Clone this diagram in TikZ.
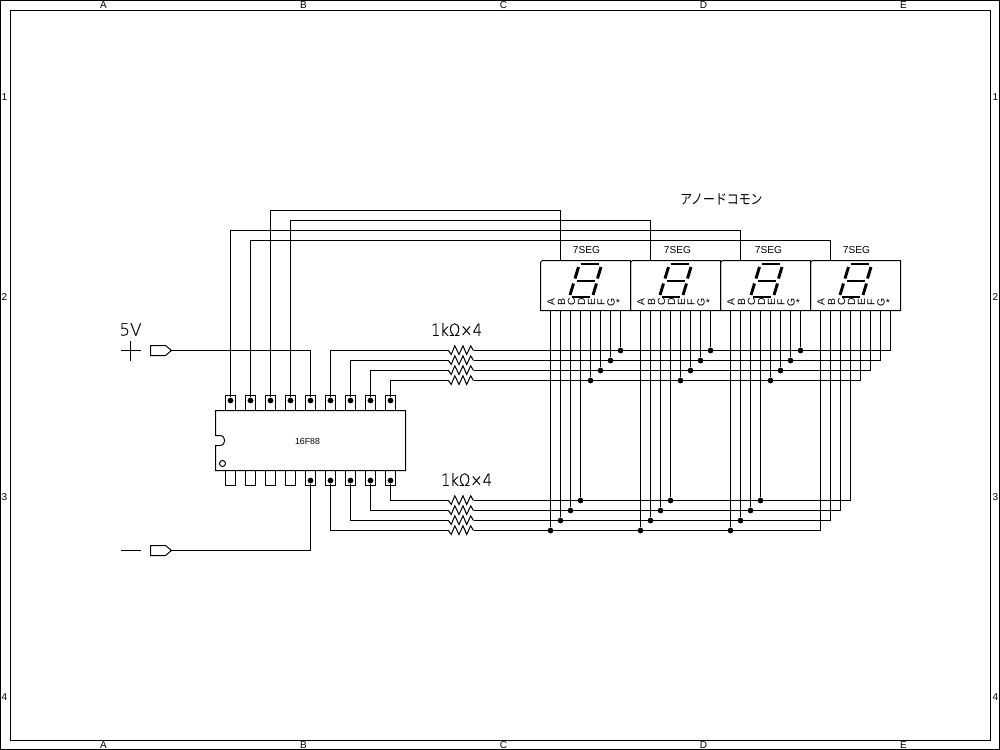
\documentclass[tikz,border=0pt]{standalone}
\usepackage{fontspec}
\setmainfont{Liberation Sans}
\newfontfamily\jpfont{Noto Sans CJK JP}
\newfontfamily\thinfont[FakeBold=0.3]{DejaVu Sans ExtraLight}
\newcommand{\zigzag}[1]{\draw[wire] (#1) -- ++(2.7,4) -- ++(3.6,-8.7) -- ++(4.2,8.7) -- ++(4,-8.7) -- ++(3.7,8.7) -- ++(4,-8.7) -- ++(2.7,4.7);}
\tikzset{
  wire/.style={draw=black,line width=0.75pt,line join=miter},
  jdot/.style={circle,fill=black,draw=none,inner sep=0pt,minimum size=4.3pt},
  segbar/.style={draw=black,line width=2.2pt,line cap=butt},
  frametext/.style={inner sep=0pt,font=\fontsize{7.5pt}{8pt}\selectfont},
  smalltext/.style={inner sep=0pt,font=\fontsize{7.6pt}{8pt}\selectfont},
  pinletter/.style={inner sep=0pt,rotate=90,font=\fontsize{7.8pt}{8pt}\selectfont},
  bigtext/.style={inner sep=0pt,font=\thinfont\fontsize{12.6pt}{14pt}\selectfont},
}
\begin{document}
\begin{tikzpicture}[x=0.75pt,y=-0.75pt]
\useasboundingbox (0,0) rectangle (1000,750);
\fill[white] (0,0) rectangle (1000,750);
\begin{scope}[shift={(0.5,0.5)}]
% frame
\draw[wire] (0,0) rectangle (999,749);
\draw[wire] (10,10) rectangle (990,740);
\foreach \l/\x in {A/103,B/303,C/503,D/703,E/903}{
  \node[frametext] (top\l) at (\x,5) {\l};
  \node[frametext] (bot\l) at (\x,745) {\l};
}
\foreach \n/\y in {1/97,2/297,3/497,4/697}{
  \node[frametext] (lft\n) at (4,\y) {\n};
  \node[frametext] (rgt\n) at (995,\y) {\n};
}
% IC pins
\foreach \i in {1,...,9}{
  \pgfmathtruncatemacro{\x}{210+20*\i}
  \draw[wire] (\x-5,410) -- (\x-5,395) -- (\x+5,395) -- (\x+5,410);
  \draw[wire] (\x-5,470) -- (\x-5,485) -- (\x+5,485) -- (\x+5,470);
  \node[jdot] (T\i) at (\x,400) {};
}
\foreach \i in {5,...,9}{
  \pgfmathtruncatemacro{\x}{210+20*\i}
  \node[jdot] (B\i) at (\x,480) {};
}
% IC body
\draw[wire] (215,410) -- (405,410) -- (405,470) -- (215,470) -- (215,445) -- (219,445)
  .. controls (226,445) and (226,435) .. (219,435) -- (215,435) -- cycle;
\draw[wire] (222,463) circle[radius=3];
\node[smalltext] (ic) at (307,441) {\fontsize{6.6pt}{8pt}\selectfont 16F88};
% Power
\node[bigtext] (v5) at (130,329) {5V};
\draw[wire] (120,350) -- (140,350);
\draw[wire] (130,340) -- (130,360);
\draw[wire] (120,550) -- (140,550);
\coordinate (Fp) at (171,350);
\coordinate (Fg) at (171,550);
\draw[wire] (Fp) -- ++(-6,-5) -- ++(-15,0) -- ++(0,10) -- ++(15,0) -- cycle;
\draw[wire] (Fg) -- ++(-6,-5) -- ++(-15,0) -- ++(0,10) -- ++(15,0) -- cycle;
\draw[wire] (Fp) -| (T5);
\draw[wire] (Fg) -| (B5);
% Displays
\foreach \d/\bx/\cx in {1/540/560,2/630/650,3/720/740,4/810/830}{
  \draw[wire] (\bx+2,260) -- (\bx+90,260) -- (\bx+90,310) -- (\bx,310) -- (\bx,262) -- cycle;
  \coordinate (C\d) at (\cx,260);
  \foreach \i in {1,...,8}{
    \pgfmathtruncatemacro{\x}{\bx+10*\i}
    \coordinate (P\d-\i) at (\x,310);
  }
}
\foreach \d/\ox/\lx/\tx in {1/0/0/586,2/90/90/677,3/181/180/768,4/270/270/856}{
  \begin{scope}[xshift=\ox*0.75pt]
    \draw[segbar] (580,263.5) -- (598,263.5);
    \draw[segbar] (576,280.5) -- (594,280.5);
    \draw[segbar] (571.5,296.5) -- (589.5,296.5);
    \draw[segbar] (578,266.5) -- (574.5,278);
    \draw[segbar] (600.5,266.5) -- (597,278);
    \draw[segbar] (573,283) -- (569.5,294.5);
    \draw[segbar] (596,283) -- (592.5,294.5);
  \end{scope}
  \node[smalltext] (seg\d) at (\tx,250) {7SEG};
  \foreach \t/\px in {A/550.5,B/561,C/571,D/581,E/591,F/600.5,G/610.5}{
    \node[pinletter] (L\d\t) at (\px+\lx,301.5) {\t};
  }
  \node[inner sep=0pt,font=\fontsize{8pt}{8pt}\selectfont] (L\d s) at (617.5+\lx,302.5) {*};
}
% Junctions and segment wires
\foreach \d/\bx in {1/550,2/640,3/730}{
  \foreach \i/\y in {1/530,2/520,3/510,4/500,5/380,6/370,7/360,8/350}{
    \pgfmathtruncatemacro{\x}{\bx+10*(\i-1)}
    \node[jdot] (J\d-\i) at (\x,\y) {};
    \draw[wire] (P\d-\i) -- (J\d-\i);
  }
}
\foreach \i/\y in {1/530,2/520,3/510,4/500,5/380,6/370,7/360,8/350}{
  \pgfmathtruncatemacro{\x}{820+10*(\i-1)}
  \coordinate (J4-\i) at (\x,\y);
  \draw[wire] (P4-\i) -- (J4-\i);
}
% Resistors and buses, top
\foreach \t/\s/\y in {6/8/350,7/7/360,8/6/370,9/5/380}{
  \coordinate (RL\t) at (448,\y);
  \coordinate (RR\t) at (473,\y);
  \zigzag{RL\t}
  \draw[wire] (T\t) |- (RL\t);
  \draw[wire] (RR\t) -- (J4-\s);
}
% Resistors and buses, bottom
\foreach \t/\s/\y in {9/4/500,8/3/510,7/2/520,6/1/530}{
  \coordinate (QL\t) at (448,\y);
  \coordinate (QR\t) at (473,\y);
  \zigzag{QL\t}
  \draw[wire] (B\t) |- (QL\t);
  \draw[wire] (QR\t) -- (J4-\s);
}
\node[bigtext,xscale=.88,transform shape] (r1) at (456,329) {1kΩ×4};
\node[bigtext,xscale=.88,transform shape] (r2) at (466,479) {1kΩ×4};
% Common anodes
\coordinate (U1) at (560,210);
\coordinate (U2) at (650,220);
\coordinate (U3) at (740,230);
\coordinate (U4) at (830,240);
\draw[wire] (T3) |- (U1) -- (C1);
\draw[wire] (T4) |- (U2) -- (C2);
\draw[wire] (T1) |- (U3) -- (C3);
\draw[wire] (T2) |- (U4) -- (C4);
\node[inner sep=0pt,xscale=.85,transform shape,font=\jpfont\fontsize{10.5pt}{12pt}\selectfont] (jp) at (721,199) {アノードコモン};
\end{scope}
\end{tikzpicture}
\end{document}
